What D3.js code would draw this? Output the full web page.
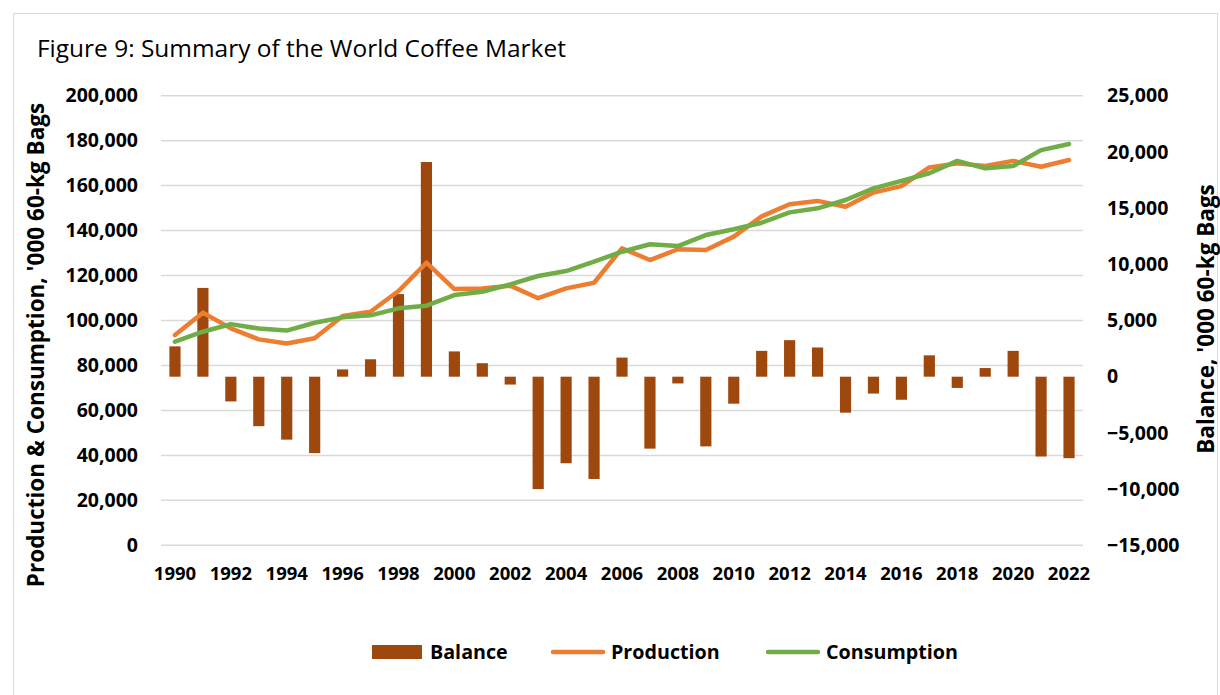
<!DOCTYPE html>
<html>
<head>
<meta charset="utf-8">
<script src="https://cdn.jsdelivr.net/npm/d3@7/dist/d3.min.js"></script>
<style>
  html, body { margin: 0; padding: 0; background: #fff; }
  svg { display: block; }
  text { font-family: "Open Sans", "Noto Sans", sans-serif; fill: #000; }
</style>
</head>
<body>
<svg id="chart" width="1220" height="695"></svg>
<script>
const years = d3.range(1990, 2023);
const balance = [2700, 7900, -2200, -4400, -5600, -6800, 650, 1550, 7350, 19100, 2250,
  1200, -700, -10000, -7700, -9100, 1700, -6400, -600, -6200, -2400, 2300,
  3250, 2600, -3200, -1500, -2050, 1900, -1000, 770, 2300, -7100, -7250];
const production = [93500, 103500, 96500, 91600, 89800, 92100, 102000, 103900, 113100, 125700, 114000,
  114200, 115500, 109900, 114300, 116800, 132100, 126900, 131700, 131400, 137300, 146300,
  151700, 153200, 150600, 156900, 159800, 168100, 169900, 168700, 171000, 168400, 171400];
const consumption = [90600, 95000, 98400, 96400, 95500, 99000, 101400, 102300, 105400, 106600, 111300,
  112800, 116100, 119800, 122000, 126200, 130600, 133900, 133100, 138000, 140600, 143500,
  148100, 149900, 153600, 158800, 162100, 165500, 171000, 167700, 168700, 175800, 178500];
const leftTicks = [0, 20000, 40000, 60000, 80000, 100000, 120000, 140000, 160000, 180000, 200000];
const rightTicks = [-15000, -10000, -5000, 0, 5000, 10000, 15000, 20000, 25000];
const xTickYears = years.filter(y => y % 2 === 0);

const svg = d3.select("#chart");
const L = 161, R = 1083, T = 95.7, B = 545.3;
const colBar = "#9E480E", colProd = "#ED7D31", colCons = "#70AD47";

// border
svg.append("rect").attr("x", 13.5).attr("y", 13.5).attr("width", 1204).attr("height", 700)
  .attr("fill", "none").attr("stroke", "#d9d9d9").attr("stroke-width", 1);

const x = d3.scaleBand().domain(years).range([L, R]).paddingInner(0.6).paddingOuter(0.3);
const yL = d3.scaleLinear().domain([0, 200000]).range([B, T]);
const yR = d3.scaleLinear().domain([-15000, 25000]).range([B, T]);
const cx = d => x(d) + x.bandwidth() / 2;
const fmt = d3.format(",");

// gridlines
svg.append("g").selectAll("line").data(leftTicks).join("line")
  .attr("x1", L).attr("x2", R).attr("y1", d => yL(d)).attr("y2", d => yL(d))
  .attr("stroke", "#d9d9d9").attr("stroke-width", 1.5);

function styleTicks(g, size) {
  g.select(".domain").remove();
  g.selectAll("text").style("font-family", '"Open Sans", sans-serif')
    .style("font-weight", "700").style("font-size", size).attr("fill", "#000");
}

// left axis
const gL = svg.append("g").attr("transform", `translate(${L},0)`)
  .call(d3.axisLeft(yL).tickValues(leftTicks).tickFormat(fmt).tickSize(0).tickPadding(23));
styleTicks(gL, "19.5px");

// right axis
const gR = svg.append("g").attr("transform", `translate(${R},0)`)
  .call(d3.axisRight(yR).tickValues(rightTicks).tickFormat(fmt).tickSize(0).tickPadding(24));
styleTicks(gR, "19.5px");

// x axis
const gX = svg.append("g").attr("transform", `translate(0,${B})`)
  .call(d3.axisBottom(x).tickValues(xTickYears).tickSize(0).tickPadding(22));
styleTicks(gX, "18.5px");

// bars
svg.append("g").selectAll("rect").data(years).join("rect")
  .attr("x", d => x(d)).attr("width", x.bandwidth())
  .attr("y", (d, i) => yR(Math.max(0, balance[i])))
  .attr("height", (d, i) => Math.abs(yR(balance[i]) - yR(0)))
  .attr("fill", colBar);

// lines
const lineL = d3.line().x((d, i) => cx(years[i])).y(d => yL(d));
svg.append("path").datum(production).attr("d", lineL).attr("fill", "none")
  .attr("stroke", colProd).attr("stroke-width", 4.5).attr("stroke-linejoin", "round").attr("stroke-linecap", "round");
svg.append("path").datum(consumption).attr("d", lineL).attr("fill", "none")
  .attr("stroke", colCons).attr("stroke-width", 4.5).attr("stroke-linejoin", "round").attr("stroke-linecap", "round");

// title
const title = svg.append("text").attr("x", 37).attr("y", 57)
  .style("font-size", "22px").text("Figure 9: Summary of the World Coffee Market");
const tw = title.node().getComputedTextLength();
title.style("font-size", (22 * 529 / tw).toFixed(2) + "px");

// axis titles
svg.append("text").attr("transform", "translate(44,345) rotate(-90)")
  .attr("text-anchor", "middle").style("font-weight", "700").style("font-size", "22.5px")
  .text("Production & Consumption, '000 60-kg Bags");
svg.append("text").attr("transform", "translate(1214,319) rotate(-90)")
  .attr("text-anchor", "middle").style("font-weight", "700").style("font-size", "22.5px")
  .text("Balance, '000 60-kg Bags");

// legend
const lg = svg.append("g");
lg.append("rect").attr("x", 372).attr("y", 645).attr("width", 50).attr("height", 14).attr("fill", colBar);
lg.append("text").attr("x", 430).attr("y", 659).style("font-weight", "700").style("font-size", "19.7px").text("Balance");
lg.append("line").attr("x1", 553).attr("x2", 603).attr("y1", 652).attr("y2", 652)
  .attr("stroke", colProd).attr("stroke-width", 4.5).attr("stroke-linecap", "round");
lg.append("text").attr("x", 611).attr("y", 659).style("font-weight", "700").style("font-size", "19.7px").text("Production");
lg.append("line").attr("x1", 768).attr("x2", 818).attr("y1", 652).attr("y2", 652)
  .attr("stroke", colCons).attr("stroke-width", 4.5).attr("stroke-linecap", "round");
lg.append("text").attr("x", 826).attr("y", 659).style("font-weight", "700").style("font-size", "19.7px").text("Consumption");
</script>
</body>
</html>
